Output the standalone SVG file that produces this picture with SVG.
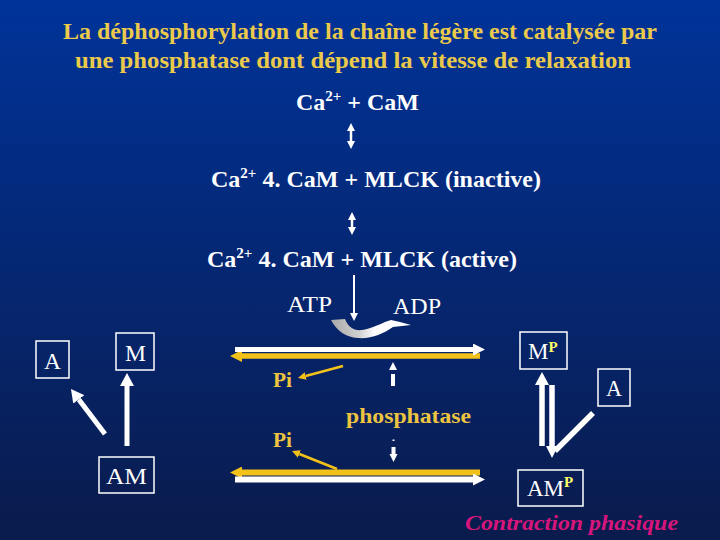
<svg xmlns="http://www.w3.org/2000/svg" width="720" height="540" viewBox="0 0 720 540" font-family="'Liberation Serif', 'Times New Roman', serif">
<defs>
<linearGradient id="bg" x1="0" y1="0" x2="0" y2="1">
<stop offset="0" stop-color="#003399"/>
<stop offset="1" stop-color="#0a1b4c"/>
</linearGradient>
<linearGradient id="cres" x1="0" y1="0" x2="1" y2="0">
<stop offset="0" stop-color="#a8a8a8"/>
<stop offset="0.35" stop-color="#d0d0d0"/>
<stop offset="0.55" stop-color="#ffffff"/>
<stop offset="1" stop-color="#ffffff"/>
</linearGradient>
<marker id="hw" viewBox="0 0 12 12" markerWidth="12" markerHeight="12" markerUnits="userSpaceOnUse" refX="0" refY="6" orient="auto"><path d="M0,0 L12,6 L0,12 z" fill="#ffffff"/></marker>
<marker id="hwb" viewBox="0 0 13 14" markerWidth="13" markerHeight="14" markerUnits="userSpaceOnUse" refX="0" refY="7" orient="auto"><path d="M0,0 L13,7 L0,14 z" fill="#ffffff"/></marker>
<marker id="hy" viewBox="0 0 12 12" markerWidth="12" markerHeight="12" markerUnits="userSpaceOnUse" refX="0" refY="6" orient="auto"><path d="M0,0 L12,6 L0,12 z" fill="#f2c21b"/></marker>
<marker id="hys" viewBox="0 0 8 8" markerWidth="8" markerHeight="8" markerUnits="userSpaceOnUse" refX="0" refY="4" orient="auto"><path d="M0,0 L8,4 L0,8 z" fill="#f2c21b"/></marker>
<marker id="hws" viewBox="0 0 8 8" markerWidth="8" markerHeight="8" markerUnits="userSpaceOnUse" refX="0" refY="4" orient="auto-start-reverse"><path d="M0,0 L8,4 L0,8 z" fill="#ffffff"/></marker>
</defs>
<style>
text{font-family:"Liberation Serif","Times New Roman",serif;}
.title{font-size:23px;font-weight:bold;fill:#ebc94b;}
.eq{font-size:24px;font-weight:bold;fill:#ffffff;}
.wt{font-size:23px;fill:#ffffff;}
.yl{font-size:22px;font-weight:bold;fill:#ecc440;}
.sup{font-size:15px;}
.psup{font-size:15px;font-weight:bold;fill:#ffff66;}
.box{fill:none;stroke:#ffffff;stroke-width:1.5;}
.wline{stroke:#ffffff;fill:none;}
.yline{stroke:#f2c21b;fill:none;}
.ct{font-size:22px;font-weight:bold;font-style:italic;fill:#d6157c;}
</style>
<rect x="0" y="0" width="720" height="540" fill="url(#bg)"/>

<g id="title">
<text class="title" x="360" y="39" text-anchor="middle" textLength="594" lengthAdjust="spacingAndGlyphs">La déphosphorylation de la chaîne légère est catalysée par</text>
<text class="title" x="353" y="68" text-anchor="middle" textLength="556" lengthAdjust="spacingAndGlyphs">une phosphatase dont dépend la vitesse de relaxation</text>
</g>

<g id="eq1"><text class="eq" x="296" y="110" textLength="123" lengthAdjust="spacingAndGlyphs">Ca<tspan class="sup" dy="-9">2+</tspan><tspan dy="9"> + CaM</tspan></text></g>
<g id="eq2"><text class="eq" x="211" y="187" textLength="330" lengthAdjust="spacingAndGlyphs">Ca<tspan class="sup" dy="-9">2+</tspan><tspan dy="9"> 4. CaM + MLCK (inactive)</tspan></text></g>
<g id="eq3"><text class="eq" x="207" y="267" textLength="310" lengthAdjust="spacingAndGlyphs">Ca<tspan class="sup" dy="-9">2+</tspan><tspan dy="9"> 4. CaM + MLCK (active)</tspan></text></g>

<g id="atp"><text class="wt" x="287" y="312" textLength="45" lengthAdjust="spacingAndGlyphs">ATP</text></g>
<g id="adp"><text class="wt" x="393" y="314" textLength="48" lengthAdjust="spacingAndGlyphs">ADP</text></g>

<g id="nodeA-left"><rect class="box" x="36" y="341" width="33" height="37"/><text class="wt" x="44" y="369" textLength="17" lengthAdjust="spacingAndGlyphs">A</text></g>
<g id="nodeM"><rect class="box" x="116" y="333" width="38" height="37"/><text class="wt" x="125" y="361" textLength="21" lengthAdjust="spacingAndGlyphs">M</text></g>
<g id="nodeAM"><rect class="box" x="99" y="457" width="55" height="36"/><text class="wt" x="106" y="484" textLength="41" lengthAdjust="spacingAndGlyphs">AM</text></g>

<g id="nodeMP"><rect class="box" x="520" y="332" width="47" height="37"/><text class="wt" x="528" y="359">M<tspan class="psup" dy="-7">P</tspan></text></g>
<g id="nodeA-right"><rect class="box" x="598" y="369" width="32" height="37"/><text class="wt" x="606" y="396" textLength="16" lengthAdjust="spacingAndGlyphs">A</text></g>
<g id="nodeAMP"><rect class="box" x="518" y="470" width="65" height="36"/><text class="wt" x="527" y="496">AM<tspan class="psup" dy="-9">P</tspan></text></g>

<g id="pi-upper"><text class="yl" x="273" y="387" textLength="19" lengthAdjust="spacingAndGlyphs">Pi</text></g>
<g id="pi-lower"><text class="yl" x="273" y="447" textLength="19" lengthAdjust="spacingAndGlyphs">Pi</text></g>
<g id="phosphatase"><text class="yl" x="346" y="423" font-size="23" textLength="125" lengthAdjust="spacingAndGlyphs">phosphatase</text></g>
<g id="contraction"><text class="ct" x="465" y="530" textLength="213" lengthAdjust="spacingAndGlyphs">Contraction phasique</text></g>

<g id="connectors">
<line class="wline" x1="351" y1="131" x2="351" y2="141" stroke-width="2.5" marker-start="url(#hws)" marker-end="url(#hws)"/>
<line class="wline" x1="352" y1="220" x2="352" y2="227" stroke-width="2.5" marker-start="url(#hws)" marker-end="url(#hws)"/>
<line class="wline" x1="354" y1="275" x2="354" y2="313" stroke-width="2" marker-end="url(#hws)"/>
<path d="M331,320 L345,319 C348,327 354,331 362,330 C370,329 378,325 385,322 L391,320 L400,322 L411,325 L393,327 C383,334 371,339 358,338 C345,337 337,331 331,320 Z" fill="url(#cres)"/>
<line class="yline" x1="480" y1="356" x2="242" y2="356" stroke-width="5.5" marker-end="url(#hy)"/>
<line class="wline" x1="235" y1="349.5" x2="473" y2="349.5" stroke-width="5" marker-end="url(#hw)"/>
<line class="yline" x1="480" y1="472.5" x2="242" y2="472.5" stroke-width="6" marker-end="url(#hy)"/>
<line class="wline" x1="235" y1="479.5" x2="473" y2="479.5" stroke-width="6" marker-end="url(#hw)"/>
<line class="yline" x1="343" y1="366" x2="305.7" y2="376" stroke-width="2.5" marker-end="url(#hys)"/>
<line class="yline" x1="337" y1="469" x2="299.4" y2="454" stroke-width="2.5" marker-end="url(#hys)"/>
<rect x="391" y="374" width="4" height="12" fill="#ffffff"/>
<polygon points="389,370 397,370 393,362" fill="#ffffff"/>
<rect x="392.5" y="439.5" width="2" height="1.5" fill="#ffffff"/>
<rect x="391.5" y="447" width="4" height="7" fill="#ffffff"/>
<polygon points="389.5,454 397.5,454 393.5,462" fill="#ffffff"/>
<line class="wline" x1="127" y1="446" x2="127" y2="386" stroke-width="5" marker-end="url(#hwb)"/>
<line class="wline" x1="105" y1="434" x2="78.8" y2="399.4" stroke-width="5" marker-end="url(#hwb)"/>
<line class="wline" x1="542" y1="446" x2="542" y2="385" stroke-width="5.5" marker-end="url(#hwb)"/>
<line class="wline" x1="552" y1="385" x2="552" y2="446" stroke-width="5.5" marker-end="url(#hw)"/>
<line class="wline" x1="593" y1="413" x2="555" y2="451" stroke-width="5.5"/>
</g>
</svg>
